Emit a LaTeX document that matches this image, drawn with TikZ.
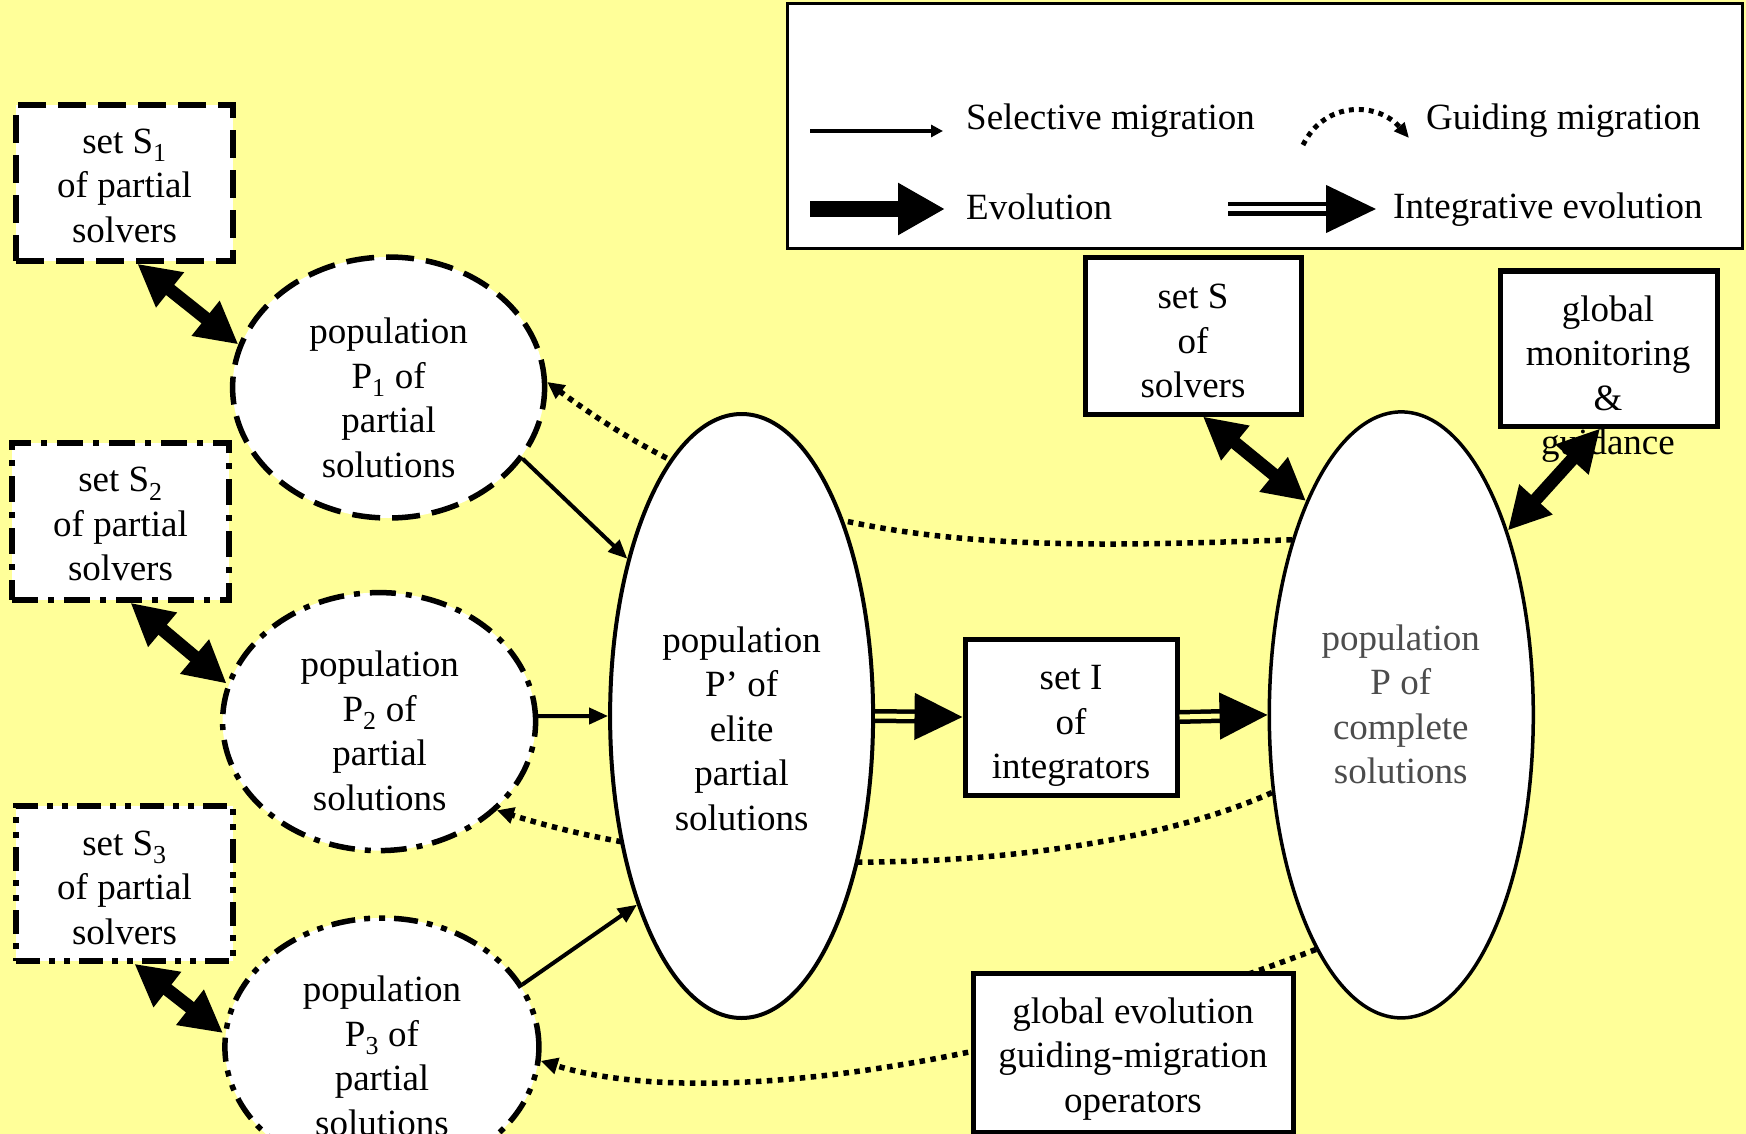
\documentclass[tikz,border=0pt]{standalone}
\usepackage{fontspec}
\setmainfont{Liberation Serif}
\usetikzlibrary{arrows.meta,shapes.geometric}
\pgfdeclarelayer{back}
\pgfdeclarelayer{mid}
\pgfsetlayers{back,mid,main}
\definecolor{bgyellow}{RGB}{255,255,153}
\begin{document}
\begin{tikzpicture}[x=1pt,y=-1pt,
  every node/.style={font=\fontsize{37}{44.5}\selectfont},
  txt/.style={align=center, inner sep=0pt},
  box/.style={draw, fill=white, rectangle, line width=5pt, inner sep=0pt},
  pop/.style={draw, fill=white, ellipse, inner sep=0pt},
  dashA/.style={line width=5.5pt, dash pattern=on 28pt off 12pt},
  dashB/.style={line width=5.5pt, dash pattern=on 26pt off 10pt on 6pt off 10pt},
  dashC/.style={line width=5.5pt, dash pattern=on 24pt off 9pt on 6pt off 9pt on 6pt off 9pt},
  evol/.style={line width=13pt, {Triangle[length=42pt,width=42pt]}-{Triangle[length=42pt,width=42pt]}},
  selmig/.style={line width=4pt, -{Triangle[length=19pt,width=16pt]}},
  guide/.style={line width=5.5pt, dash pattern=on 5.5pt off 5.5pt, -{Triangle[length=17pt,width=16pt]}},
  integ/.style={line width=4.5pt, double=bgyellow, double distance=5pt, -{Triangle[length=48pt,width=46pt]}},
]
\useasboundingbox (0,0) rectangle (1746,1134);
\begin{pgfonlayer}{back}
  \fill[bgyellow] (0,0) rectangle (1746,1134);
\end{pgfonlayer}

% ---------- legend ----------
\node[draw, fill=white, line width=3pt, minimum width=955pt, minimum height=245pt, inner sep=0pt] (legend) at (1264.5,126.5) {};
\coordinate (ls1) at (810,131);  \coordinate (ls2) at (943,131);
\coordinate (lg1) at (1303,145); \coordinate (lg2) at (1409,138);
\coordinate (le1) at (810,209);  \coordinate (le2) at (945,209);
\coordinate (li1) at (1228,209); \coordinate (li2) at (1376,209);
\draw[line width=4pt, -{Triangle[length=12pt,width=12pt]}] (ls1) -- (ls2);
\draw[line width=5pt, dash pattern=on 5pt off 5pt, -{Triangle[length=15pt,width=13pt]}] (lg1) .. controls (1325,100) and (1378,102) .. (lg2);
\draw[line width=16pt, -{Triangle[length=47pt,width=49pt]}] (le1) -- (le2);
\draw[line width=4.5pt, double=white, double distance=5pt, -{Triangle[length=50pt,width=47pt]}] (li1) -- (li2);
\node[txt, anchor=west] (lt1) at (966,120.5) {Selective migration};
\node[txt, anchor=west] (lt2) at (1426,120.5) {Guiding migration};
\node[txt, anchor=west] (lt3) at (966,206.5) {Evolution};
\node[txt, anchor=west] (lt4) at (1393,209.5) {Integrative evolution};

% ---------- boxes ----------
\node[box, dashA, minimum width=217pt, minimum height=156pt] (S1) at (124.5,183) {};
\node[box, dashB, minimum width=217pt, minimum height=157pt] (S2) at (120.5,521.5) {};
\node[box, dashC, minimum width=217pt, minimum height=155pt] (S3) at (124.5,883.5) {};
\node[box, minimum width=216pt, minimum height=156pt] (S) at (1193,336) {};
\node[box, minimum width=217pt, minimum height=155pt] (GM) at (1608.5,348.5) {};
\node[box, minimum width=212pt, minimum height=156pt] (I) at (1071,717) {};
\node[box, minimum width=320pt, minimum height=159pt] (GE) at (1133,1052.5) {};
\node[txt] (S1t) at (124.5,185.5) {set S\textsubscript{1}\\of partial\\solvers};
\node[txt] (S2t) at (120.5,524) {set S\textsubscript{2}\\of partial\\solvers};
\node[txt] (S3t) at (124.5,887.5) {set S\textsubscript{3}\\of partial\\solvers};
\node[txt] (St) at (1193,341) {set S\\of\\solvers};
\node[txt] (GMt) at (1608,379) {global\\monitoring\\\&\\guidance};
\node[txt] (It) at (1071,726) {set I\\of\\integrators};
\node[txt] (GEt) at (1133,1059) {global evolution\\guiding-migration\\operators};

% ---------- populations ----------
\node[pop, dashA, minimum width=312pt, minimum height=261pt] (P1) at (388.6,387.5) {};
\node[pop, dashB, minimum width=313pt, minimum height=258pt] (P2) at (379.1,721.6) {};
\node[pop, dashC, minimum width=314pt, minimum height=258pt] (P3) at (381.9,1047) {};
\node[pop, line width=4pt, minimum width=263pt, minimum height=604pt] (Pp) at (741.6,716) {};
\node[pop, line width=3.5pt, minimum width=264pt, minimum height=606pt] (P) at (1401.3,714.9) {};
\node[txt] (P1t) at (388.6,398) {population\\P\textsubscript{1} of\\partial\\solutions};
\node[txt] (P2t) at (379.7,731) {population\\P\textsubscript{2} of\\partial\\solutions};
\node[txt] (P3t) at (382,1056) {population\\P\textsubscript{3} of\\partial\\solutions};
\node[txt] (Ppt) at (741.6,728.5) {population\\P’ of\\elite\\partial\\solutions};
\node[txt, text=black!70] (Pt) at (1400.8,704.5) {population\\P of\\complete\\solutions};

% ---------- guiding migration (behind) ----------
\begin{pgfonlayer}{mid}
  \draw[guide] (P.122) .. controls (1000,550) and (780,555) .. (P1.2);
  \draw[guide] (P.-149) .. controls (1100,870) and (750,890) .. (P2.-37);
  \draw[guide] (P.-110) .. controls (1000,1070) and (700,1110) .. (P3.-5);
\end{pgfonlayer}

% ---------- evolution ----------
\draw[evol] (S1.-81) -- (P1.164);
\draw[evol] (S2.-83) -- (P2.166);
\draw[evol] (S3.-83) -- (P3.175);
\draw[evol] (S.-83) -- (P.114.6);
\draw[evol] (GM.-96) -- (P.60);

% ---------- selective migration ----------
\draw[selmig] (P1.-28.6) -- (Pp.126);
\draw[selmig] (P2.2) -- (Pp.west);
\draw[selmig] (P3.24.7) -- (Pp.-119);

% ---------- integrative evolution ----------
\draw[integ] (Pp.east) -- (I.west);
\draw[integ] (I.east) -- (P.west);
\end{tikzpicture}
\end{document}
